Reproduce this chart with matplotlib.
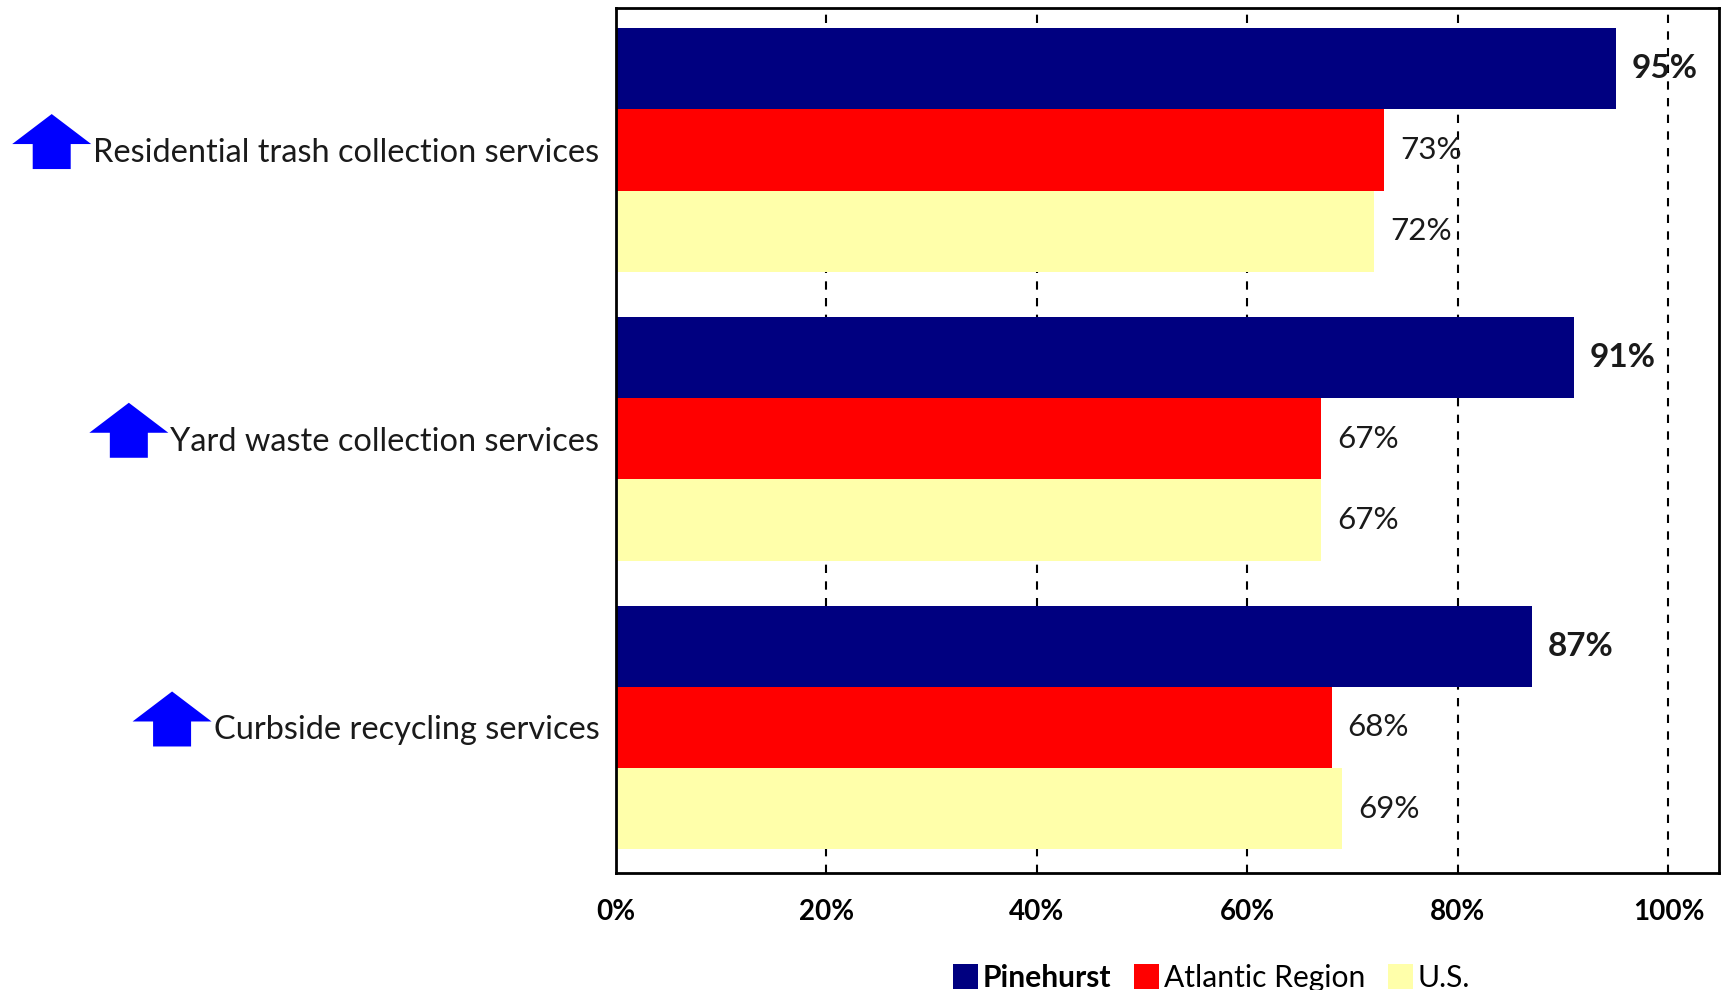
import matplotlib
matplotlib.use("Agg")
import matplotlib.pyplot as plt
from matplotlib import font_manager
from matplotlib.patches import Polygon
from matplotlib.transforms import IdentityTransform
import numpy as np

# ---- data ----
categories = ["Residential trash collection services",
              "Yard waste collection services",
              "Curbside recycling services"]
series_names = ["Pinehurst", "Atlantic Region", "U.S."]
pinehurst = [95, 91, 87]
atlantic_region = [73, 67, 68]
us = [72, 67, 69]
xticks = [0, 20, 40, 60, 80, 100]
xtick_labels = ["0%", "20%", "40%", "60%", "80%", "100%"]

colors = ["#000080", "#FF0000", "#FFFFAA"]

available = {f.name for f in font_manager.fontManager.ttflist}
body_font = "Lato" if "Lato" in available else "DejaVu Sans"

W, H = 1721, 990
fig = plt.figure(figsize=(W / 100, H / 100), dpi=100)
ax = fig.add_axes([616 / W, 1 - 873 / H, (1719 - 616) / W, (873 - 8) / H])

series = [pinehurst, atlantic_region, us]
n = len(categories)
y = np.arange(n)
h = 0.2814
offsets = [-h, 0, h]

for vals, off, col, name in zip(series, offsets, colors, series_names):
    bars = ax.barh(y + off, vals, height=h, color=col, label=name, zorder=2)
    bold = name == "Pinehurst"
    for b, v in zip(bars, vals):
        ax.annotate(f"{v}%", (v, b.get_y() + b.get_height() / 2),
                    xytext=(16, 0), textcoords="offset pixels",
                    ha="left", va="center", fontsize=24 if bold else 22.6,
                    fontweight="bold" if bold else "normal",
                    family=body_font, color="#1a1a1a", zorder=3)

ax.set_xlim(0, 104.8)
ax.set_ylim(2.504, -0.492)

ax.set_xticks(xticks)
ax.set_xticklabels(xtick_labels, fontsize=20, fontweight="bold", family=body_font)
ax.set_yticks(y)
ax.set_yticklabels(categories, fontsize=23.4, family=body_font, color="#1a1a1a")
ax.tick_params(axis="x", length=0, pad=19)
ax.tick_params(axis="y", length=0, pad=12)

ax.grid(axis="x", color="black", linestyle=(0, (4, 4)), linewidth=1.5, zorder=1)
ax.grid(axis="y", visible=False)
ax.set_axisbelow(True)
for s in ax.spines.values():
    s.set_linewidth(2)
    s.set_color("black")

leg = fig.legend(loc="center", bbox_to_anchor=(0.704, 0.012), ncol=3, frameon=False,
                 prop={"family": body_font, "size": 21.6}, handlelength=0.85,
                 handleheight=0.9, handletextpad=0.15, columnspacing=0.75,
                 borderpad=0)
leg.get_texts()[0].set_fontweight("bold")

# up arrows to the left of each category label
fig.canvas.draw()
for lbl in ax.get_yticklabels():
    bb = lbl.get_window_extent()
    cy = (bb.y0 + bb.y1) / 2
    right = bb.x0 - 2
    hw = 79
    sw = 38
    cx = right - hw / 2
    tip = cy + 39
    base = tip - 30
    bottom = cy - 16
    pts = [(cx, tip), (right, base), (cx + sw / 2, base), (cx + sw / 2, bottom),
           (cx - sw / 2, bottom), (cx - sw / 2, base), (right - hw, base)]
    fig.patches.append(Polygon(pts, closed=True, facecolor="#0000FF",
                               edgecolor="none", transform=IdentityTransform(),
                               figure=fig))

fig.savefig("out.png", dpi=100)
